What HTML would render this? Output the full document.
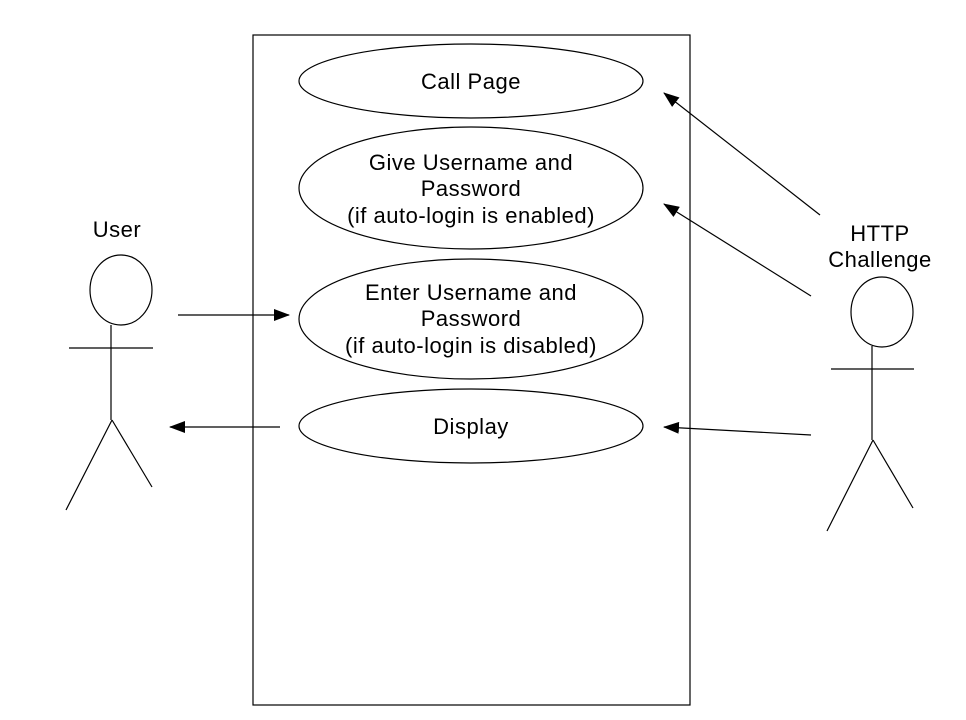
<!DOCTYPE html>
<html><head><style>body{margin:0;background:#fff}svg{display:block}text{font-family:"Liberation Sans",Arial,sans-serif;font-size:22px;letter-spacing:0.5px;fill:#000}</style></head>
<body>
<svg width="966" height="720" viewBox="0 0 966 720" xmlns="http://www.w3.org/2000/svg">
<defs><marker id="a" markerWidth="16" markerHeight="12" refX="15" refY="6" orient="auto" markerUnits="userSpaceOnUse"><path d="M0,0 L16,6 L0,12 Z" fill="#000"/></marker></defs>
<g fill="none" stroke="#000" stroke-width="1.2">
<rect x="253" y="35" width="437" height="670"/>
<ellipse cx="471" cy="81" rx="172" ry="37"/>
<ellipse cx="471" cy="188" rx="172" ry="61"/>
<ellipse cx="471" cy="319" rx="172" ry="60"/>
<ellipse cx="471" cy="426" rx="172" ry="37"/>
<ellipse cx="121" cy="290" rx="31" ry="35"/>
<path d="M111,325 L111,420 M69,348 L153,348 M112,420 L66,510 M112,420 L152,487"/>
<ellipse cx="882" cy="312" rx="31" ry="35"/>
<path d="M872,346 L872,440 M831,369 L914,369 M873,440 L827,531 M873,440 L913,508"/>
<line x1="178" y1="315" x2="289" y2="315" marker-end="url(#a)"/>
<line x1="280" y1="427" x2="170" y2="427" marker-end="url(#a)"/>
<line x1="820" y1="215" x2="664" y2="93" marker-end="url(#a)"/>
<line x1="811" y1="296" x2="664" y2="204" marker-end="url(#a)"/>
<line x1="811" y1="435" x2="664" y2="427" marker-end="url(#a)"/>
</g>
<g text-anchor="middle">
<text x="471" y="89">Call Page</text>
<text x="471" y="170">Give Username and</text>
<text x="471" y="196">Password</text>
<text x="471" y="223">(if auto-login is enabled)</text>
<text x="471" y="300">Enter Username and</text>
<text x="471" y="326">Password</text>
<text x="471" y="353">(if auto-login is disabled)</text>
<text x="471" y="434">Display</text>
<text x="117" y="237">User</text>
<text x="880" y="241">HTTP</text>
<text x="880" y="267">Challenge</text>
</g>
</svg>
</body></html>
